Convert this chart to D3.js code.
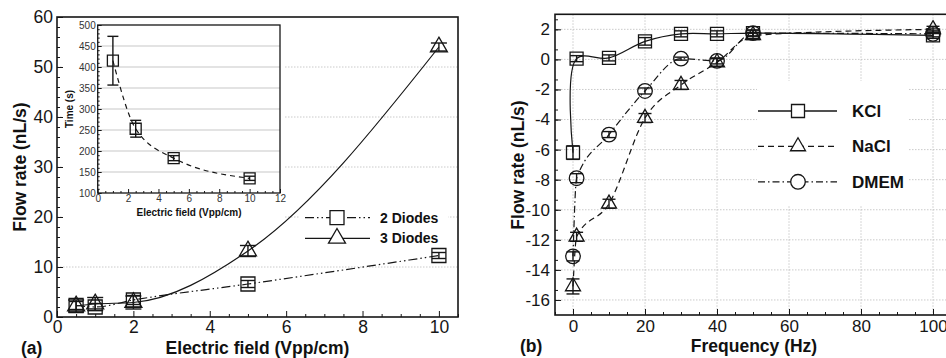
<!DOCTYPE html>
<html>
<head>
<meta charset="utf-8">
<script src="https://cdn.jsdelivr.net/npm/d3@7"></script>
<style>
  body { margin: 0; background: #fff; }
  svg { display: block; font-family: "Liberation Sans", Arial, sans-serif; }
  .grid line { stroke: #bcbcbc; stroke-width: 0.8; stroke-dasharray: 1.5,1.5; }
  .lbl { font-weight: bold; fill: #111; }
</style>
</head>
<body>
<svg width="946" height="358"></svg>
<script>
// (a) flow rate vs electric field
const fieldA   = [0.5, 1, 2, 5, 10];
const diodes2  = [2.3, 2.0, 3.4, 6.6, 12.3];
const diodes2E = [0.8, 0.7, 0.9, 0.7, 0.6];
const diodes3  = [2.2, 2.6, 2.9, 13.2, 54.0];
const diodes3E = [1.2, 1.3, 1.3, 1.1, 0.8];
const ticksA_x = [0, 2, 4, 6, 8, 10];
const ticksA_y = [0, 10, 20, 30, 40, 50, 60];

// inset: time vs electric field
const insetField = [1, 2.5, 5, 10];
const insetTime  = [415, 253, 183, 135];
const insetErr   = [58, 20, 6, 5];
const ticksIn_x  = [0, 2, 4, 6, 8, 10, 12];
const ticksIn_y  = [100, 150, 200, 250, 300, 350, 400, 450, 500];

// (b) flow rate vs frequency
const freq  = [0, 1, 10, 20, 30, 40, 50, 100];
const kcl   = [-6.2, 0.05, 0.1, 1.2, 1.7, 1.7, 1.75, 1.6];
const kclE  = [0.45, 0.2, 0.2, 0.25, 0.2, 0.2, 0.2, 0.2];
const nacl  = [-15.1, -11.8, -9.6, -3.9, -1.7, -0.2, 1.6, 2.0];
const naclE = [0.5, 0.3, 0.3, 0.3, 0.3, 0.25, 0.2, 0.2];
const dmem  = [-13.1, -7.9, -5.0, -2.1, 0.05, -0.1, 1.75, 1.7];
const dmemE = [0.3, 0.3, 0.2, 0.2, 0.1, 0.2, 0.2, 0.2];
const ticksB_x = [0, 20, 40, 60, 80, 100];
const ticksB_y = [-16, -14, -12, -10, -8, -6, -4, -2, 0, 2];

const ink = "#161616";
const svg = d3.select("svg");

const sq  = s => d3.symbol().type(d3.symbolSquare).size(s * s)();
const tri = s => d3.symbol().type(d3.symbolTriangle).size(s * s * Math.sqrt(3) / 4)();
const cir = r => d3.symbol().type(d3.symbolCircle).size(Math.PI * r * r)();

function drawSeries(g, x, y, xs, ys, errs, o) {
  g.append("path")
    .attr("d", d3.line().x((d, i) => x(xs[i])).y(d => y(d)).curve(o.curve)(ys))
    .attr("fill", "none").attr("stroke", ink).attr("stroke-width", 1.2)
    .attr("stroke-dasharray", o.dash);
  const eb = g.append("g").attr("stroke", ink).attr("stroke-width", 1.4);
  xs.forEach((d, i) => {
    const cx = x(d), lo = y(ys[i] - errs[i]), hi = y(ys[i] + errs[i]);
    eb.append("line").attr("x1", cx).attr("x2", cx).attr("y1", lo).attr("y2", hi);
    [lo, hi].forEach(v => eb.append("line")
      .attr("x1", cx - o.cap).attr("x2", cx + o.cap).attr("y1", v).attr("y2", v));
  });
  g.append("g").selectAll("path").data(ys).join("path")
    .attr("transform", (d, i) => `translate(${x(xs[i])},${y(d)})`)
    .attr("d", o.symbol).attr("fill", "none").attr("stroke", ink).attr("stroke-width", 1.3);
}

function axes(g, x, y, o) {
  g.append("g").attr("transform", `translate(0,${y.range()[0]})`)
    .call(d3.axisBottom(x).tickValues(o.xt).tickSize(-o.major).tickSizeOuter(0).tickPadding(o.pad).tickFormat(d3.format("d")));
  g.append("g").attr("transform", `translate(${x.range()[0]},0)`)
    .call(d3.axisLeft(y).tickValues(o.yt).tickSize(-o.major).tickSizeOuter(0).tickPadding(o.pad).tickFormat(d3.format("d")));
  g.append("g").attr("transform", `translate(0,${y.range()[0]})`)
    .call(d3.axisBottom(x).tickValues(o.xm).tickSize(-o.minor).tickSizeOuter(0).tickFormat(""));
  g.append("g").attr("transform", `translate(${x.range()[0]},0)`)
    .call(d3.axisLeft(y).tickValues(o.ym).tickSize(-o.minor).tickSizeOuter(0).tickFormat(""));
  g.selectAll(".domain").remove();
  g.selectAll(".tick line").attr("stroke", ink).attr("stroke-width", 1);
  g.selectAll(".tick text").attr("font-family", null).attr("font-size", o.fs).attr("fill", o.tc || ink)
    .text(function () { return d3.select(this).text().replace("−", "-"); });
}

// ---------------- panel (a) ----------------
const xA = d3.scaleLinear([0, 10.5], [57, 458]);
const yA = d3.scaleLinear([0, 60], [317, 17]);
const gA = svg.append("g");

gA.append("g").attr("class", "grid").selectAll("line").data(ticksA_y.slice(1, -1)).join("line")
  .attr("x1", xA(0)).attr("x2", xA(10.5)).attr("y1", d => yA(d)).attr("y2", d => yA(d));

// white boxes behind inset and legend
gA.append("rect").attr("x", 62).attr("y", 19).attr("width", 222).attr("height", 204).attr("fill", "#fff");
gA.append("rect").attr("x", 300).attr("y", 205).attr("width", 148).attr("height", 45).attr("fill", "#fff");

drawSeries(gA, xA, yA, fieldA, diodes2, diodes2E,
  { curve: d3.curveMonotoneX, dash: "9,3,1.5,3,1.5,3", symbol: sq(14), cap: 7 });
drawSeries(gA, xA, yA, fieldA, diodes3, diodes3E,
  { curve: d3.curveMonotoneX, dash: null, symbol: tri(17), cap: 8 });

axes(gA, xA, yA, {
  xt: ticksA_x, yt: ticksA_y,
  xm: d3.range(0, 10.51, 0.5).filter(v => v % 2 !== 0),
  ym: d3.range(0, 60.1, 2).filter(v => v % 10 !== 0),
  major: 6, minor: 3, pad: 4, fs: "17.5px"
});
gA.append("rect").attr("x", xA(0)).attr("y", yA(60)).attr("width", xA(10.5) - xA(0)).attr("height", yA(0) - yA(60))
  .attr("fill", "none").attr("stroke", ink).attr("stroke-width", 1.6);

// legend (a)
const legA = [["2 Diodes", "9,3,1.5,3,1.5,3", sq(14)], ["3 Diodes", null, tri(17)]];
legA.forEach((d, i) => {
  const ly = 217.7 + i * 20.6;
  gA.append("line").attr("x1", 305).attr("x2", 370).attr("y1", ly).attr("y2", ly)
    .attr("stroke", ink).attr("stroke-width", 1.3).attr("stroke-dasharray", d[1]);
  gA.append("path").attr("transform", `translate(337,${ly})`).attr("d", d[2])
    .attr("fill", "#fff").attr("stroke", ink).attr("stroke-width", 1.3);
  gA.append("text").attr("class", "lbl").attr("x", 380).attr("y", ly + 5).attr("font-size", "14px").text(d[0]);
});

gA.append("text").attr("class", "lbl").attr("font-size", "17.5px").attr("text-anchor", "middle")
  .attr("transform", "translate(26,167) rotate(-90)").text("Flow rate (nL/s)");
gA.append("text").attr("class", "lbl").attr("font-size", "17.5px").attr("text-anchor", "middle")
  .attr("x", 257.5).attr("y", 354).text("Electric field (Vpp/cm)");
gA.append("text").attr("class", "lbl").attr("font-size", "17.5px").attr("x", 21).attr("y", 354).text("(a)");

// ---------------- inset ----------------
const xI = d3.scaleLinear([0, 12], [97.7, 280]);
const yI = d3.scaleLinear([100, 500], [193, 25]);
const gI = svg.append("g");
gI.append("g").selectAll("line").data(ticksIn_y.slice(1, -1)).join("line")
  .attr("x1", xI(0)).attr("x2", xI(12)).attr("y1", d => yI(d)).attr("y2", d => yI(d))
  .attr("stroke", "#c8c8c8").attr("stroke-width", 1.2);
drawSeries(gI, xI, yI, insetField, insetTime, insetErr,
  { curve: d3.curveMonotoneX, dash: "5,4", symbol: sq(11), cap: 5.5 });
axes(gI, xI, yI, {
  xt: ticksIn_x, yt: ticksIn_y,
  xm: d3.range(0, 12.01, 0.5).filter(v => v % 2 !== 0),
  ym: d3.range(100, 501, 10).filter(v => v % 50 !== 0),
  major: 4, minor: 2, pad: 2, fs: "10px", tc: "#333"
});
gI.append("rect").attr("x", xI(0)).attr("y", yI(500)).attr("width", xI(12) - xI(0)).attr("height", yI(100) - yI(500))
  .attr("fill", "none").attr("stroke", ink).attr("stroke-width", 1.3);
gI.append("text").attr("class", "lbl").attr("font-size", "10px").attr("text-anchor", "middle")
  .attr("transform", "translate(73,109) rotate(-90)").text("Time (s)");
gI.append("text").attr("class", "lbl").attr("font-size", "10px").attr("text-anchor", "middle")
  .attr("x", 189).attr("y", 216).text("Electric field (Vpp/cm)");

// ---------------- panel (b) ----------------
const xB = d3.scaleLinear([-5, 105], [555, 951]);
const yB = d3.scaleLinear([-17, 3], [315, 14.3]);
const gB = svg.append("g");

const gridB = gB.append("g").attr("class", "grid");
gridB.selectAll(".v").data(ticksB_x).join("line").attr("class", "v")
  .attr("x1", d => xB(d)).attr("x2", d => xB(d)).attr("y1", yB(3)).attr("y2", yB(-17));
gridB.selectAll(".h").data(ticksB_y).join("line").attr("class", "h")
  .attr("x1", xB(-5)).attr("x2", 946).attr("y1", d => yB(d)).attr("y2", d => yB(d));
gB.append("rect").attr("x", 757).attr("y", 81).attr("width", 152).attr("height", 125).attr("fill", "#fff");

drawSeries(gB, xB, yB, freq, nacl, naclE,
  { curve: d3.curveMonotoneX, dash: "6,4", symbol: tri(15), cap: 6.5 });
drawSeries(gB, xB, yB, freq, dmem, dmemE,
  { curve: d3.curveMonotoneX, dash: "7,3,1.5,3", symbol: cir(7.3), cap: 6.5 });
drawSeries(gB, xB, yB, freq, kcl, kclE,
  { curve: d3.curveCatmullRom.alpha(0.5), dash: null, symbol: sq(13), cap: 6.5 });

axes(gB, xB, yB, {
  xt: ticksB_x, yt: ticksB_y,
  xm: d3.range(-5, 105.1, 5).filter(v => v % 20 !== 0),
  ym: d3.range(-2, 29).map(k => -16 + k * 2 / 3).filter((v, i) => (i + 2) % 3 !== 0 && v >= -17 && v <= 3),
  major: 6, minor: 3, pad: 5, fs: "17px"
});
gB.append("rect").attr("x", xB(-5)).attr("y", yB(3)).attr("width", xB(105) - xB(-5)).attr("height", yB(-17) - yB(3))
  .attr("fill", "none").attr("stroke", ink).attr("stroke-width", 1.6);

const legB = [["KCl", null, sq(13)], ["NaCl", "6,4", tri(15)], ["DMEM", "7,3,1.5,3", cir(7.3)]];
legB.forEach((d, i) => {
  const ly = 111 + i * 35.4;
  gB.append("line").attr("x1", 758).attr("x2", 837).attr("y1", ly).attr("y2", ly)
    .attr("stroke", ink).attr("stroke-width", 1.3).attr("stroke-dasharray", d[1]);
  gB.append("path").attr("transform", `translate(798,${ly})`).attr("d", d[2])
    .attr("fill", "#fff").attr("stroke", ink).attr("stroke-width", 1.3);
  gB.append("text").attr("class", "lbl").attr("x", 852).attr("y", ly + 6).attr("font-size", "17px").text(d[0]);
});

gB.append("text").attr("class", "lbl").attr("font-size", "17.5px").attr("text-anchor", "middle")
  .attr("transform", "translate(524,165) rotate(-90)").text("Flow rate (nL/s)");
gB.append("text").attr("class", "lbl").attr("font-size", "17.5px").attr("text-anchor", "middle")
  .attr("x", 754).attr("y", 352).text("Frequency (Hz)");
gB.append("text").attr("class", "lbl").attr("font-size", "17.5px").attr("x", 520).attr("y", 352).text("(b)");
</script>
</body>
</html>
